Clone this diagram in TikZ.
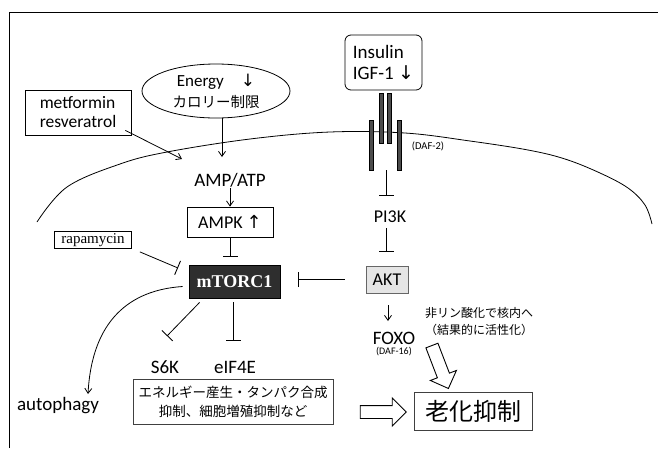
\documentclass[tikz,border=0pt]{standalone}
\usepackage{fontspec}
\setmainfont{Carlito}
\newfontfamily\cjk{Noto Sans CJK JP}
\newfontfamily\serifx{Liberation Serif}
\newfontfamily\symx{DejaVu Sans}
\usetikzlibrary{arrows.meta,shapes.geometric,shapes.arrows,calc}
\begin{document}
\begin{tikzpicture}[x=1pt,y=-1pt,line width=0.8pt,
  arr/.style={-{Straight Barb[length=5pt,width=7pt]}},
  inh/.style={-{Bar[width=15pt,line width=0.9pt]}},
  lbl/.style={font=\fontsize{19}{21}\selectfont, inner sep=1pt},
  lbls/.style={font=\fontsize{18}{21}\selectfont, inner sep=1pt},
  box/.style={draw, rectangle, inner sep=2pt},
  hollow/.style={single arrow, draw, line width=0.9pt, fill=white, inner xsep=0pt, inner ysep=6pt, minimum width=0pt, single arrow head extend=7.5pt},
  recbar/.style={fill=black!70, draw=black, line width=0.4pt}
]
\useasboundingbox (0,0) rectangle (658,448);
\fill[white] (0,0) rectangle (658,448);
% frame
\draw (9,448) -- (9,12) -- (658,12);
% membrane
\draw plot[smooth, tension=0.6] coordinates {(37,222) (67,187) (120,164) (167,152) (250,139) (330,132) (405,133) (470,141) (528,150) (565,159) (600,173) (628,188) (645,205) (652,224)};
% receptor
\draw[recbar] (369,120) rectangle (373,170);
\draw[recbar] (379,93) rectangle (383,143);
\draw[recbar] (387,93) rectangle (391,143);
\draw[recbar] (397,120) rectangle (401,170);

% nodes
\node[ellipse, draw, minimum width=148, minimum height=54, inner sep=0pt, align=center, font=\fontsize{17}{21}\selectfont] (energy) at (216,91) {Energy\quad{\symx ↓}\\{\cjk\fontsize{14.5}{21}\selectfont カロリー制限}};
\node[box, minimum width=106, minimum height=45, align=left, font=\fontsize{17.5}{19}\selectfont] (metformin) at (78,112.5) {metformin\\resveratrol};
\node[box, rounded corners=6pt, minimum width=77, minimum height=55, align=left, font=\fontsize{19}{21}\selectfont] (insulin) at (383.5,62.5) {Insulin\\IGF-1 {\symx ↓}};
\node[font=\fontsize{10.5}{12}\selectfont, inner sep=1pt] (daf2) at (428,146) {(DAF-2)};
\node[lbl] (ampatp) at (230,180) {AMP/ATP};
\node[box, minimum width=86, minimum height=30, lbls] (ampk) at (230,222) {AMPK {\symx ↑}};
\node[box, minimum width=77, minimum height=17, inner sep=0pt, font=\serifx\fontsize{15}{17}\selectfont] (rapa) at (93,240) {rapamycin};
\node[fill=black!82, draw=black, minimum width=91, minimum height=33, inner sep=1pt, text=white, font=\serifx\bfseries\fontsize{18}{20}\selectfont] (mtorc) at (234.5,281.5) {mTORC1};
\node[lbls] (pi3k) at (390,217) {PI3K};
\node[draw=black!60, fill=black!10, minimum width=42, minimum height=27, inner sep=1pt, lbls] (akt) at (387,279.5) {AKT};
\node[lbl] (foxo) at (394,338) {FOXO};
\node[font=\fontsize{10}{12}\selectfont, inner sep=1pt] (daf16) at (394,352) {(DAF-16)};
\node[lbl] (s6k) at (165,367) {S6K};
\node[lbl] (eif4e) at (235,367) {eIF4E};
\node[lbl] (autoph) at (58,406) {autophagy};
\node[box, draw=black!75, minimum width=200, minimum height=45, align=center, font=\cjk\fontsize{13.5}{19}\selectfont] (effect) at (233,401.5) {エネルギー産生・タンパク合成\\抑制、細胞増殖抑制など};
\node[box, draw=black!75, minimum width=118, minimum height=38, font=\cjk\fontsize{24}{26}\selectfont] (aging) at (473,411) {老化抑制};
\node[font=\cjk\fontsize{12}{17}\selectfont, align=center, inner sep=0pt] (note) at (479,321.5) {非リン酸化で核内へ\\（結果的に活性化）};
\node[hollow, minimum height=46, rotate=-69] (darrow) at (439,364) {};
\node[hollow, minimum height=46] (harrow) at (380,412) {};

% coordinates
\coordinate (eEnd) at (222,157);
\coordinate (mEnd) at (182,159);
\coordinate (rEnd) at (178,268);
\coordinate (aEnd) at (88,394);
\coordinate (sEnd) at (167,336);
\coordinate (fEnd) at (233,341);
\coordinate (recB) at (386,170);
\coordinate (fxA) at (388,305);
\coordinate (fxB) at (388,321);

% connectors
\draw[arr] (energy.south -| eEnd) -- (eEnd);
\draw[arr] ($(metformin.south east)+(-6,-5)$) -- (mEnd);
\draw[arr] (ampatp.south) -- (ampk.north);
\draw[inh, shorten >=8pt] (ampk.south) -- (ampk.south |- mtorc.north);
\draw[inh] ($(rapa.south east)+(8,3)$) -- (rEnd);
\draw[arr] ($(mtorc.west)+(-6,5)$) .. controls (130,290) and (92,320) .. (aEnd);
\draw[inh] ($(mtorc.south west)+(11,4)$) -- (sEnd);
\draw[inh] ($(mtorc.south)+(-1.5,4)$) -- (fEnd);
\draw[inh] (recB) -- (recB |- 0,196);
\draw[inh, shorten <=4pt, shorten >=14pt] (pi3k.south -| recB) -- (akt.north -| recB);
\draw[inh, shorten <=21pt, shorten >=18pt] (akt.west) -- (akt.west -| mtorc.east);
\draw[arr] (fxA) -- (fxB);
\end{tikzpicture}
\end{document}
